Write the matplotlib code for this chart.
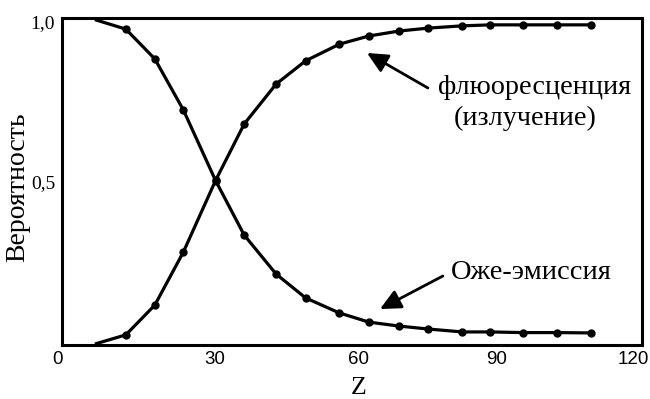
import matplotlib.pyplot as plt
from matplotlib.transforms import ScaledTranslation

# values
z_pts = [13.2, 19.2, 25.1, 31.8, 37.7, 44.3, 50.4, 57.4, 63.5, 69.7,
         75.7, 82.8, 88.6, 95.3, 102.4, 109.5]
fluor = [0.031, 0.122, 0.284, 0.504, 0.676, 0.798, 0.869, 0.920, 0.945,
         0.960, 0.969, 0.976, 0.979, 0.979, 0.979, 0.979]
auger = [0.966, 0.875, 0.719, 0.502, 0.336, 0.217, 0.144, 0.098, 0.070,
         0.058, 0.049, 0.040, 0.040, 0.038, 0.038, 0.037]
z_start = 6.8
fluor_start = 0.003
auger_start = 0.995

xticks = [0, 30, 60, 90, 120]
xlabels = ['0', '30', '60', '90', '120']
yticks = [0.5, 1.0]
ylabels = ['0,5', '1,0']

serif = 'Liberation Serif'
sans = 'Liberation Sans'

fig = plt.figure(figsize=(6.5, 3.99), dpi=100)
ax = fig.add_axes([0.0954, 0.1353, 0.8923, 0.8196])

ax.plot([z_start] + z_pts, [fluor_start] + fluor, color='k', lw=2.3,
        solid_capstyle='butt')
ax.plot([z_start] + z_pts, [auger_start] + auger, color='k', lw=2.3,
        solid_capstyle='butt')
ax.plot(z_pts, fluor, 'o', color='k', ms=5)
ax.plot(z_pts, auger, 'o', color='k', ms=5)

ax.set_xlim(0, 120)
ax.set_ylim(0, 1.0)
for s in ax.spines.values():
    s.set_linewidth(2.2)

ax.tick_params(length=0)
ax.tick_params(axis='x', pad=4)
ax.tick_params(axis='y', pad=5)
ax.set_xticks(xticks)
ax.set_xticklabels(xlabels, fontfamily=sans, fontsize=13.5)
ax.set_yticks(yticks)
ax.set_yticklabels(ylabels, fontfamily=serif, fontsize=14)

# hand placed labels in the original
shifts = [-5, 8, 6, 0, -9]
for lab, dx in zip(ax.get_xticklabels(), shifts):
    lab.set_transform(lab.get_transform() +
                      ScaledTranslation(dx / 100, 0, fig.dpi_scale_trans))
ylab = ax.get_yticklabels()
ylab[1].set_transform(ylab[1].get_transform() +
                      ScaledTranslation(0, -4 / 100, fig.dpi_scale_trans))

arrow = dict(arrowstyle='-|>,head_length=0.5,head_width=0.24', color='k',
             lw=2, mutation_scale=25, shrinkA=0, shrinkB=0)
ax.annotate('', xy=(63.1, 0.893), xytext=(75.7, 0.786), arrowprops=arrow)
ax.annotate('', xy=(65.8, 0.110), xytext=(78.8, 0.211), arrowprops=arrow)

ax.text(97.7, 0.786, 'флюоресценция', family=serif, fontsize=20.3,
        ha='center', va='center')
ax.text(95.8, 0.694, '(излучение)', family=serif, fontsize=20.3,
        ha='center', va='center')
ax.text(97.0, 0.223, 'Оже-эмиссия', family=serif, fontsize=20.5,
        ha='center', va='center')

fig.text(0.027, 0.53, 'Вероятность', family=serif, fontsize=20,
         rotation=90, ha='center', va='center')
fig.text(0.552, 0.028, 'Z', family=serif, fontsize=18.5,
         ha='center', va='center')

fig.savefig('out.png', dpi=100)
